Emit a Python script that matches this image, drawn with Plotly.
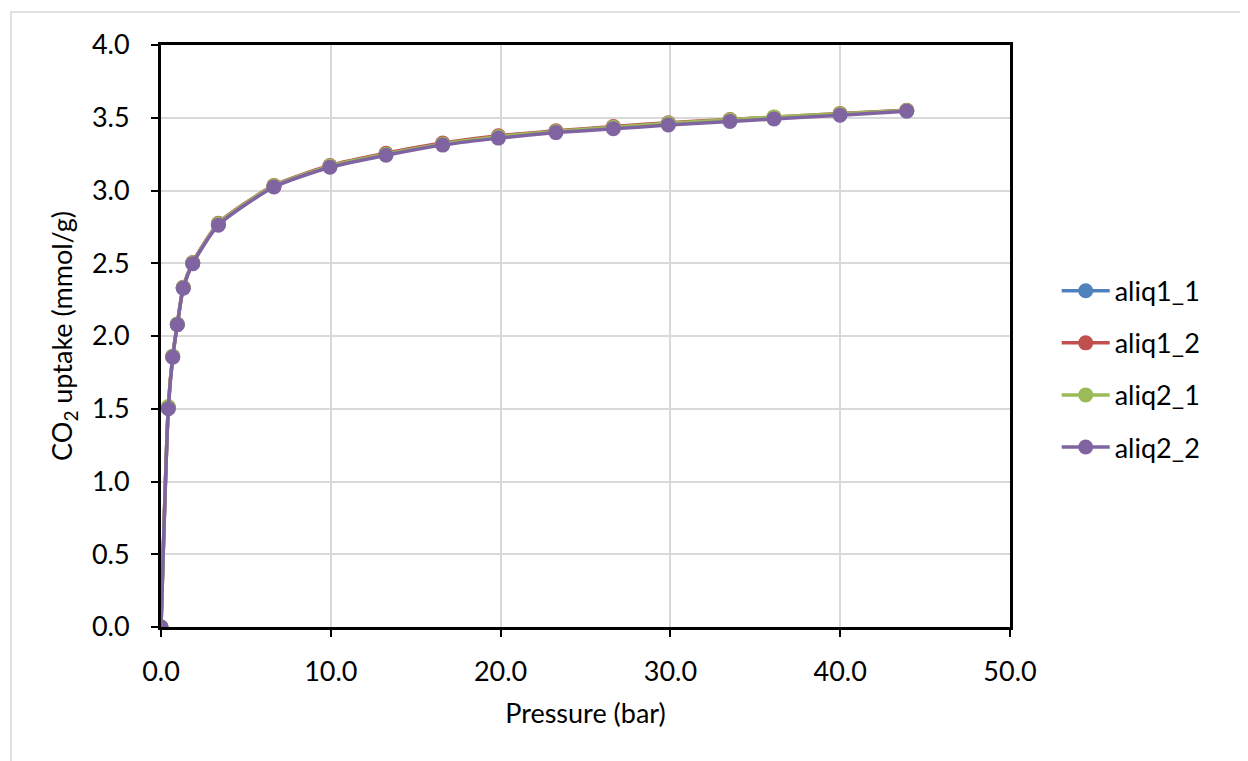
import plotly.graph_objects as go

pressure = [0, 0.43, 0.69, 0.96, 1.31, 1.87, 3.38, 6.65, 9.95, 13.25, 16.59, 19.87,
            23.26, 26.64, 29.88, 33.51, 36.1, 39.99, 43.92]

aliq1_1 = [0, 1.505, 1.858, 2.079, 2.331, 2.500, 2.768, 3.030, 3.166, 3.252, 3.322, 3.372,
           3.404, 3.436, 3.460, 3.484, 3.500, 3.526, 3.549]
aliq1_2 = [0, 1.510, 1.860, 2.080, 2.335, 2.505, 2.775, 3.035, 3.172, 3.256, 3.326, 3.376,
           3.410, 3.440, 3.466, 3.488, 3.504, 3.530, 3.552]
aliq2_1 = [0, 1.515, 1.862, 2.082, 2.333, 2.503, 2.772, 3.032, 3.168, 3.250, 3.320, 3.370,
           3.405, 3.435, 3.462, 3.486, 3.506, 3.528, 3.550]
aliq2_2 = [0, 1.500, 1.854, 2.077, 2.328, 2.497, 2.762, 3.024, 3.160, 3.242, 3.312, 3.360,
           3.398, 3.424, 3.450, 3.474, 3.492, 3.518, 3.545]

series_names = ["aliq1_1", "aliq1_2", "aliq2_1", "aliq2_2"]
series_values = [aliq1_1, aliq1_2, aliq2_1, aliq2_2]
colors = ["#4F81BD", "#C0504D", "#9BBB59", "#8064A2"]

x_ticks = [0, 10, 20, 30, 40, 50]
y_ticks = [0, 0.5, 1.0, 1.5, 2.0, 2.5, 3.0, 3.5, 4.0]

FONT = "Lato"
FS = 27

fig = go.Figure()
for name, vals, col in zip(series_names, series_values, colors):
    fig.add_trace(go.Scatter(
        x=pressure, y=vals, name=name, legendgroup=name,
        mode="lines+markers",
        line=dict(color=col, width=3.5, shape="spline", smoothing=0.6),
        marker=dict(color=col, size=15),
    ))

axis_common = dict(
    showline=True, linecolor="black", linewidth=3, mirror=True,
    ticks="outside", ticklen=7, tickwidth=2, tickcolor="black",
    showgrid=True, gridcolor="#D9D9D9", gridwidth=1.5,
    zeroline=False,
    tickfont=dict(family=FONT, size=FS, color="black"),
)

fig.update_layout(
    width=1248, height=761,
    margin=dict(l=153, r=246, t=37, b=142),
    paper_bgcolor="white", plot_bgcolor="white",
    font=dict(family=FONT, size=FS, color="black"),
    xaxis=dict(range=[0, 50], tickvals=x_ticks, tickformat=".1f", ticklabelstandoff=12,
               title=dict(text="Pressure (bar)", font=dict(family=FONT, size=FS), standoff=18),
               **axis_common),
    yaxis=dict(range=[0, 4], tickvals=y_ticks, tickformat=".1f", ticklabelstandoff=16,
               title=dict(text="CO<sub>2</sub> uptake (mmol/g)", font=dict(family=FONT, size=FS), standoff=12),
               **axis_common),
    legend=dict(x=1.055, y=0.443, xanchor="left", yanchor="middle",
                font=dict(family=FONT, size=FS, color="black"),
                traceorder="grouped", tracegroupgap=14, itemwidth=48,
                bgcolor="rgba(0,0,0,0)"),
    showlegend=True,
    shapes=[dict(type="rect", xref="paper", yref="paper",
                 x0=-0.1767, x1=2.0, y0=-1.0, y1=1.0567,
                 line=dict(color="#D9D9D9", width=1.5), layer="below")],
)

fig.write_html("out.html")
